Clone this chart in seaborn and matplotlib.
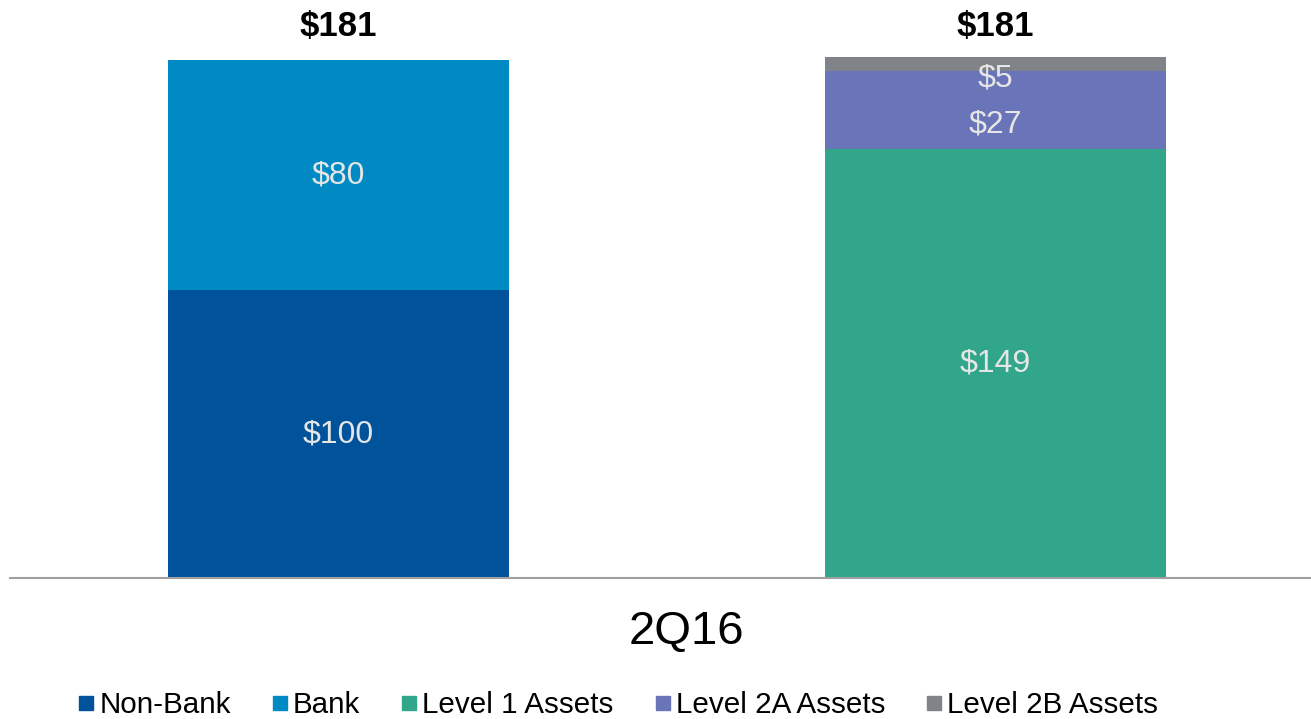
import matplotlib
matplotlib.use("Agg")
import matplotlib.pyplot as plt
from matplotlib.lines import Line2D
import seaborn as sns

# data
columns = ["Funding", "HQLA"]
segments = ["Non-Bank", "Bank", "Level 1 Assets", "Level 2A Assets", "Level 2B Assets"]
segment_column = ["Funding", "Funding", "HQLA", "HQLA", "HQLA"]
segment_values = [100, 80, 149, 27, 5]
totals = [181, 181]
period_label = "2Q16"

colors = ["#00539B", "#008AC4", "#31A68B", "#6974B9", "#808387"]

sns.set_theme(style="white")
plt.rcParams["font.family"] = ["Liberation Sans", "DejaVu Sans"]
plt.rcParams["text.color"] = "black"

fig = plt.figure(figsize=(13.11, 7.19), dpi=100)
ax = fig.add_axes([10 / 1311, 1 - 578 / 719, 1 - 10 / 1311, 521 / 719])

bottoms = {c: 0 for c in columns}
for name, col, val, colr in zip(segments, segment_column, segment_values, colors):
    b = bottoms[col]
    sns.barplot(x=[col], y=[val], order=columns, bottom=b, color=colr,
                width=0.519, saturation=1, ax=ax, label=name, linewidth=0)
    xi = columns.index(col)
    # small segments have their labels nudged down a little
    dy = -10 if val < 30 else 0
    ax.annotate(f"${val}", (xi, b + val / 2), xytext=(0, dy),
                textcoords="offset points", ha="center", va="center",
                fontsize=23, color="#E6E6E6")
    bottoms[col] = b + val

for xi, tot in enumerate(totals):
    ax.annotate(f"${tot}", (xi, tot), xytext=(0, 22), textcoords="offset points",
                ha="center", va="center", fontsize=25, fontweight="bold",
                color="black", annotation_clip=False)

ax.set_xlim(-0.5, 1.48)
ax.set_ylim(0, 181)
ax.set_xlabel("")
ax.set_ylabel("")
ax.set_xticks([])
ax.set_yticks([])
for s in ["top", "left", "right"]:
    ax.spines[s].set_visible(False)
ax.spines["bottom"].set_color("#A0A0A0")
ax.spines["bottom"].set_linewidth(1.5)
if ax.get_legend() is not None:
    ax.get_legend().remove()

fig.text(686 / 1311, 1 - 632 / 719, period_label, ha="center", va="center",
         fontsize=34, color="black")

handles = [Line2D([], [], marker="s", linestyle="", color=c, markersize=10)
           for c in colors]
fig.legend(handles, segments, ncol=5, loc="center",
           bbox_to_anchor=(617 / 1311, 1 - 705 / 719), frameon=False,
           fontsize=21.3, handletextpad=0.1, columnspacing=1.3,
           handlelength=0.7, borderpad=0, borderaxespad=0, labelcolor="black")

fig.savefig("out.png", dpi=100)
